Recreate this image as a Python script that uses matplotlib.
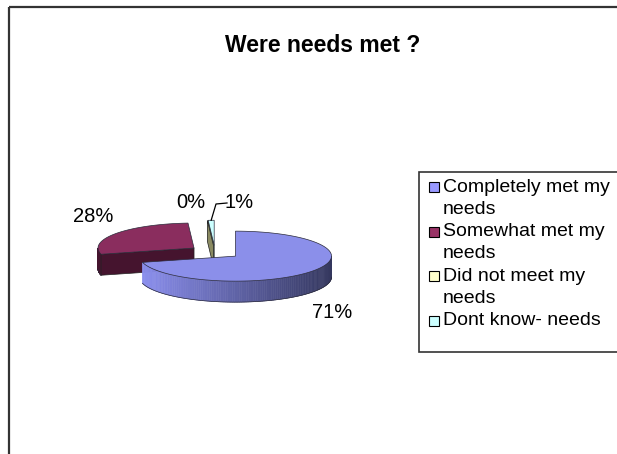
import numpy as np
import matplotlib
matplotlib.use("Agg")
import matplotlib.pyplot as plt
from matplotlib.patches import Polygon, Rectangle
from matplotlib.colors import to_rgb

plt.rcParams["font.family"] = ["Liberation Sans", "DejaVu Sans"]

# ---------------------------------------------------------------------------
# Data
# ---------------------------------------------------------------------------

title = "Were needs met ?"
categories = ["Completely met my needs", "Somewhat met my needs",
              "Did not meet my needs", "Dont know- needs"]
legend_lines = [["Completely met my", "needs"], ["Somewhat met my", "needs"],
                ["Did not meet my", "needs"], ["Dont know- needs"]]
percents = [71, 28, 0, 1]

top_colors = ["#8B8FEA", "#8A2D5E", "#FFFFCC", "#CCFFFF"]
side_colors = ["#5A5EA8", "#45142E", "#8A8A62", "#6E8A8A"]
legend_colors = ["#9999FF", "#993366", "#FFFFCC", "#CCFFFF"]

# ---------------------------------------------------------------------------
# Layout (pixel space, y down)
# ---------------------------------------------------------------------------

W, H = 617, 454
CX, CY = 215, 252          # pie centre before explosion
RX, RY = 96, 25            # ellipse radii of the top face
DEPTH = 21                 # pie thickness
EXPLODE = 0.27             # fraction of radius each slice is pulled out
label_xy = [(332, 312), (93, 216), (191, 203), (239, 202)]

fig = plt.figure(figsize=(W / 100, H / 100), dpi=100)
ax = fig.add_axes([0, 0, 1, 1])
ax.set_xlim(0, W)
ax.set_ylim(H, 0)
ax.axis("off")

# chart-area frame (runs off the right and bottom edges)
ax.plot([9, W + 5], [7, 7], color="#333333", lw=1.6, solid_capstyle="butt")
ax.plot([9, 9], [7, H + 5], color="#333333", lw=1.6, solid_capstyle="butt")

ax.text(323, 45, title, ha="center", va="center", fontsize=16.5, fontweight="bold")


def pt(theta, cx, cy):
    t = np.radians(theta)
    return cx + RX * np.sin(t), cy - RY * np.cos(t)


# slice angles, clockwise from 12 o'clock
total = float(sum(percents))
ends = np.cumsum(percents) / total * 360.0
starts = np.concatenate([[0.0], ends[:-1]])

slices = []
for i, (a0, a1) in enumerate(zip(starts, ends)):
    mid = np.radians((a0 + a1) / 2)
    cx = CX + EXPLODE * RX * np.sin(mid)
    cy = CY - EXPLODE * RY * np.cos(mid)
    slices.append((cy, i, a0, a1, cx))

# back-to-front painting
for cy, i, a0, a1, cx in sorted(slices):
    # outer wall: only the part on the near half of the ellipse
    lo, hi = max(a0, 90.0), min(a1, 270.0)
    if hi > lo:
        th = np.linspace(lo, hi, 120)
        c_side = np.array(to_rgb(side_colors[i]))
        for k in range(len(th) - 1):
            x0, y0 = pt(th[k], cx, cy)
            x1, y1 = pt(th[k + 1], cx, cy)
            if i == 0:
                # light on the left, dark towards the right
                f = np.clip((x0 - (cx - RX)) / (2 * RX), 0, 1)
                col = (1 - f) * np.array(to_rgb("#8C90F0")) + f * np.array(to_rgb("#34375E"))
            else:
                col = c_side
            ax.add_patch(Polygon([(x0, y0), (x1, y1), (x1, y1 + DEPTH), (x0, y0 + DEPTH)],
                                 closed=True, facecolor=col, edgecolor=col, lw=0.4))
        xs, ys = zip(*[pt(t, cx, cy) for t in th])
        ax.plot(xs, np.array(ys) + DEPTH, color="#2a2a3a", lw=0.5)

    # radial cut faces facing the viewer
    if np.sin(np.radians(a0)) < -1e-6:
        ox, oy = pt(a0, cx, cy)
        ax.add_patch(Polygon([(cx, cy), (ox, oy), (ox, oy + DEPTH), (cx, cy + DEPTH)],
                             closed=True, facecolor=side_colors[i], edgecolor="#222222", lw=0.5))
    if np.sin(np.radians(a1)) > 1e-6:
        ox, oy = pt(a1, cx, cy)
        ax.add_patch(Polygon([(cx, cy), (ox, oy), (ox, oy + DEPTH), (cx, cy + DEPTH)],
                             closed=True, facecolor=side_colors[i], edgecolor="#222222", lw=0.5))

    # top face
    if a1 > a0:
        th = np.linspace(a0, a1, max(4, int((a1 - a0) * 2)))
        top = [(cx, cy)] + [pt(t, cx, cy) for t in th]
        ax.add_patch(Polygon(top, closed=True, facecolor=top_colors[i],
                             edgecolor="#2a2a3a", lw=0.5))

# percentage labels
for i, p in enumerate(percents):
    ax.text(*label_xy[i], f"{p}%", ha="center", va="center", fontsize=14.5)

# leader line for the small slice
small = [s for s in slices if s[1] == 3][0]
lcy, _, a0, a1, lcx = small
tx, ty = pt((a0 + a1) / 2, lcx, lcy)
lx, ly = label_xy[3]
ax.plot([lx - 12, lx - 23, tx], [ly + 1, ly + 2, ty], color="black", lw=0.9)

# legend
LX, LY, LW, LH = 419, 172, 210, 180
ax.add_patch(Rectangle((LX, LY), LW, LH, facecolor="white", edgecolor="#333333", lw=1.2))
line_h = 22.3
row = 0
for i, lines in enumerate(legend_lines):
    y = LY + 15 + row * line_h
    ax.add_patch(Rectangle((LX + 10, y - 5), 10, 10, facecolor=legend_colors[i],
                           edgecolor="black", lw=0.8))
    for j, s in enumerate(lines):
        ax.text(LX + 24, y + j * line_h, s, ha="left", va="center", fontsize=14)
    row += len(lines)

fig.savefig("out.png", dpi=100, facecolor="white")
